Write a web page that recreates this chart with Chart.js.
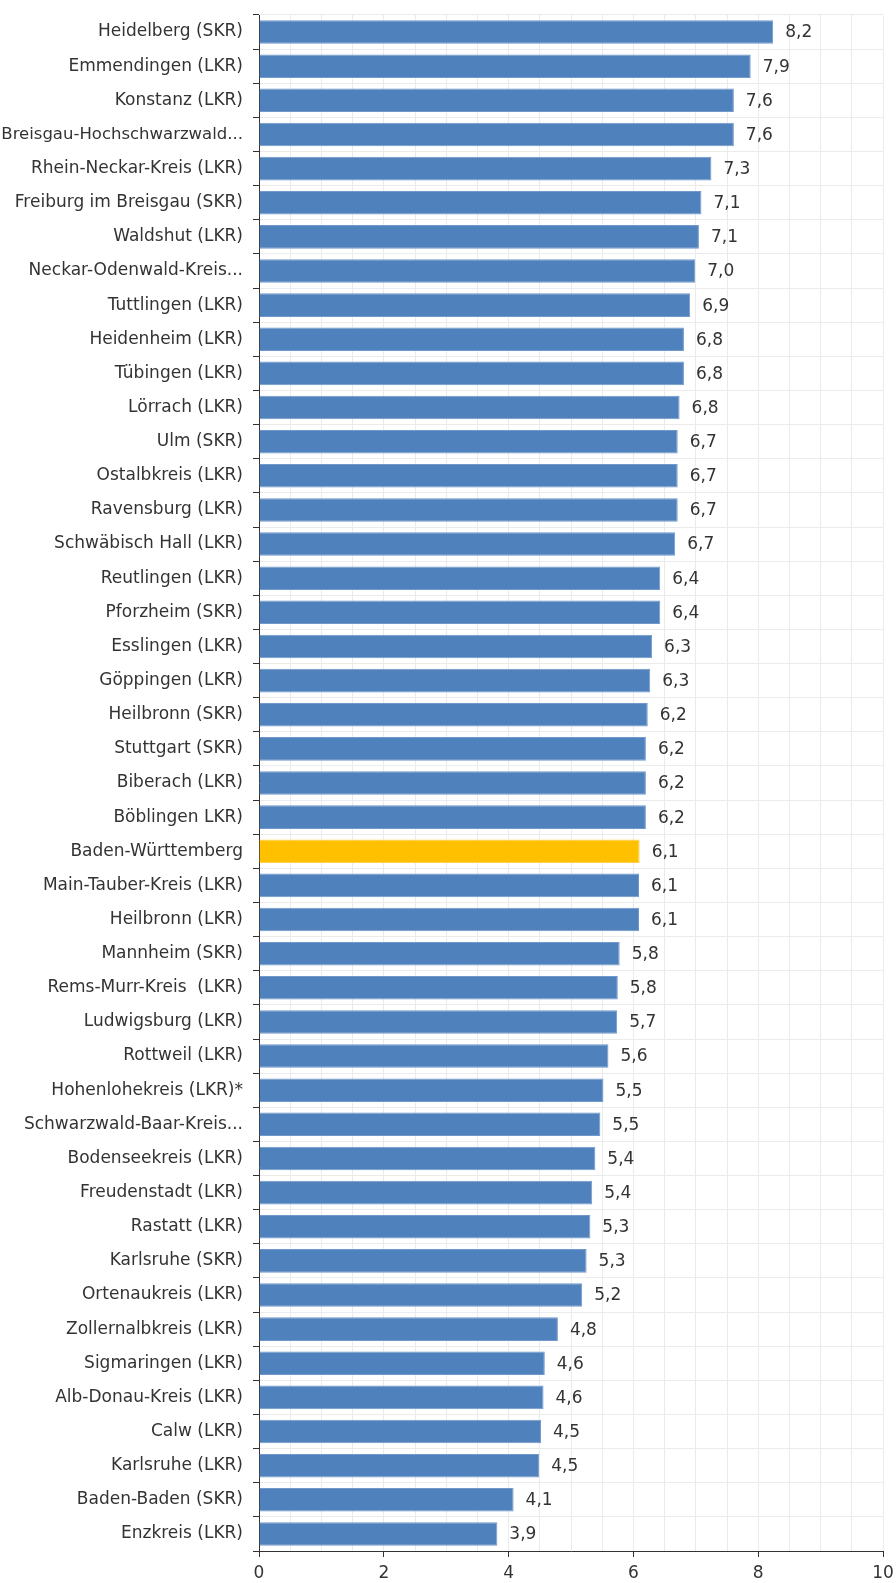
<!DOCTYPE html>
<html>
<head>
<meta charset="utf-8">
<script src="https://cdn.jsdelivr.net/npm/chart.js@4.4.1/dist/chart.umd.min.js"></script>
<style>
html,body{margin:0;padding:0;background:#fff;}
#wrap{width:896px;height:1583px;}
</style>
</head>
<body>
<div id="wrap"><canvas id="c" width="896" height="1583"></canvas></div>
<script>
const categories = [
  "Heidelberg (SKR)", "Emmendingen (LKR)", "Konstanz (LKR)", "Breisgau-Hochschwarzwald...",
  "Rhein-Neckar-Kreis (LKR)", "Freiburg im Breisgau (SKR)", "Waldshut (LKR)", "Neckar-Odenwald-Kreis...",
  "Tuttlingen (LKR)", "Heidenheim (LKR)", "Tübingen (LKR)", "Lörrach (LKR)",
  "Ulm (SKR)", "Ostalbkreis (LKR)", "Ravensburg (LKR)", "Schwäbisch Hall (LKR)",
  "Reutlingen (LKR)", "Pforzheim (SKR)", "Esslingen (LKR)", "Göppingen (LKR)",
  "Heilbronn (SKR)", "Stuttgart (SKR)", "Biberach (LKR)", "Böblingen LKR)",
  "Baden-Württemberg", "Main-Tauber-Kreis (LKR)", "Heilbronn (LKR)", "Mannheim (SKR)",
  "Rems-Murr-Kreis  (LKR)", "Ludwigsburg (LKR)", "Rottweil (LKR)", "Hohenlohekreis (LKR)*",
  "Schwarzwald-Baar-Kreis...", "Bodenseekreis (LKR)", "Freudenstadt (LKR)", "Rastatt (LKR)",
  "Karlsruhe (SKR)", "Ortenaukreis (LKR)", "Zollernalbkreis (LKR)", "Sigmaringen (LKR)",
  "Alb-Donau-Kreis (LKR)", "Calw (LKR)", "Karlsruhe (LKR)", "Baden-Baden (SKR)",
  "Enzkreis (LKR)"
];
const values = [
  8.24, 7.88, 7.61, 7.61,
  7.25, 7.09, 7.05, 6.99,
  6.91, 6.81, 6.81, 6.74,
  6.71, 6.71, 6.71, 6.67,
  6.43, 6.43, 6.30, 6.27,
  6.23, 6.20, 6.20, 6.20,
  6.10, 6.09, 6.09, 5.78,
  5.75, 5.74, 5.60, 5.52,
  5.47, 5.39, 5.34, 5.31,
  5.25, 5.18, 4.79, 4.58,
  4.56, 4.52, 4.49, 4.08,
  3.82
];
const valueLabels = [
  "8,2", "7,9", "7,6", "7,6",
  "7,3", "7,1", "7,1", "7,0",
  "6,9", "6,8", "6,8", "6,8",
  "6,7", "6,7", "6,7", "6,7",
  "6,4", "6,4", "6,3", "6,3",
  "6,2", "6,2", "6,2", "6,2",
  "6,1", "6,1", "6,1", "5,8",
  "5,8", "5,7", "5,6", "5,5",
  "5,5", "5,4", "5,4", "5,3",
  "5,3", "5,2", "4,8", "4,6",
  "4,6", "4,5", "4,5", "4,1",
  "3,9"
];
const highlightCategory = "Baden-Württemberg";
const xMin = 0, xMax = 10, xGridStep = 0.5, xLabelStep = 2;

const BLUE = "#4F81BD", BLUE_EDGE = "#7199CB";
const GOLD = "#FFC000", GOLD_EDGE = "#FFD04D";
const TEXT = "#333333";
const FAMILY = "'DejaVu Sans', Verdana, sans-serif";
const FONT = { family: FAMILY, size: 17 };
const Y_LABEL_MAX_W = 241;

const valueLabelPlugin = {
  id: "valueLabels",
  afterDatasetsDraw(chart) {
    const ctx = chart.ctx;
    const meta = chart.getDatasetMeta(0);
    ctx.save();
    ctx.font = FONT.size + "px " + FAMILY;
    ctx.fillStyle = TEXT;
    ctx.textAlign = "left";
    ctx.textBaseline = "middle";
    meta.data.forEach((bar, i) => {
      ctx.fillText(valueLabels[i], bar.x + 12, bar.y + 1);
    });
    ctx.restore();
  }
};

const measureCtx = document.createElement("canvas").getContext("2d");
function yLabelFont(c) {
  const label = categories[c.index] || "";
  measureCtx.font = "17px " + FAMILY;
  const w = measureCtx.measureText(label).width;
  return { family: FAMILY, size: w > Y_LABEL_MAX_W ? 16.5 : 17 };
}

new Chart(document.getElementById("c"), {
  type: "bar",
  data: {
    labels: categories,
    datasets: [{
      data: values,
      backgroundColor: categories.map(c => c === highlightCategory ? GOLD : BLUE),
      borderColor: categories.map(c => c === highlightCategory ? GOLD_EDGE : BLUE_EDGE),
      borderWidth: 1,
      categoryPercentage: 1,
      barPercentage: 0.69
    }]
  },
  options: {
    indexAxis: "y",
    responsive: false,
    animation: false,
    devicePixelRatio: 1,
    layout: { padding: { top: 15, right: 13, left: 0, bottom: 0 } },
    plugins: { legend: { display: false }, tooltip: { enabled: false } },
    scales: {
      x: {
        min: xMin, max: xMax,
        afterFit(scale) { scale.height = 32; scale.paddingLeft = 0; scale.paddingRight = 0; },
        ticks: {
          stepSize: xGridStep,
          autoSkip: false,
          maxRotation: 0,
          padding: 6,
          color: TEXT,
          font: FONT,
          callback: v => (Math.abs(v % xLabelStep) < 1e-9 ? String(v) : "")
        },
        grid: {
          color: "#EBEBEB",
          lineWidth: 1,
          tickLength: 6,
          tickColor: ctx => (ctx.tick && Math.abs(ctx.tick.value % xLabelStep) < 1e-9) ? TEXT : "rgba(0,0,0,0)"
        },
        border: { display: true, color: TEXT, width: 1 }
      },
      y: {
        afterFit(scale) { scale.width = 259; scale.paddingTop = 0; scale.paddingBottom = 0; },
        ticks: {
          autoSkip: false,
          padding: 10,
          color: TEXT,
          font: yLabelFont
        },
        grid: {
          offset: true,
          color: "#EBEBEB",
          lineWidth: 1,
          tickLength: 6,
          tickColor: TEXT
        },
        border: { display: true, color: TEXT, width: 1 }
      }
    }
  },
  plugins: [valueLabelPlugin]
});
</script>
</body>
</html>
